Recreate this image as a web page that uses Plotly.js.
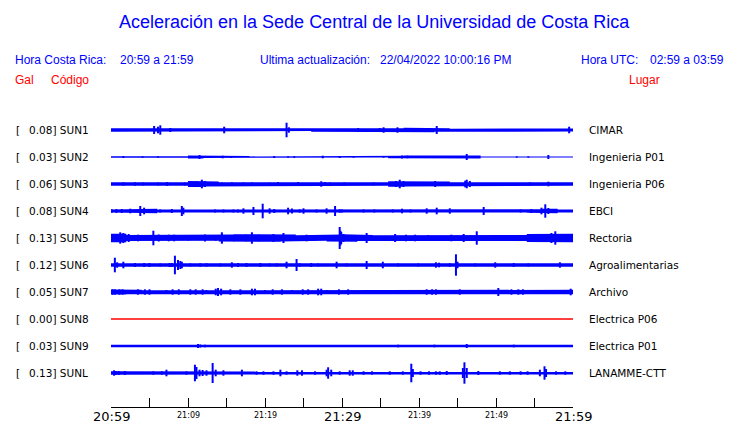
<!DOCTYPE html>
<html><head><meta charset="utf-8">
<script src="https://cdn.plot.ly/plotly-3.0.1.min.js"></script>
<style>html,body{margin:0;padding:0;background:#fff}#chart{width:740px;height:423px}</style>
</head><body><div id="chart"></div>
<script>
// ---------- DATA ----------
const stations = ['SUN1','SUN2','SUN3','SUN4','SUN5','SUN6','SUN7','SUN8','SUN9','SUNL'];
const places = ['CIMAR','Ingenieria P01','Ingenieria P06','EBCI','Rectoria','Agroalimentarias','Archivo','Electrica P06','Electrica P01','LANAMME-CTT'];
const peakGal = ['0.08','0.03','0.06','0.08','0.13','0.12','0.05','0.00','0.03','0.13'];
const tickMinutes = [0,10,20,30,40,50,60];
const tickLabels = ['20:59','21:09','21:19','21:29','21:39','21:49','21:59'];
const majorLabels = ['20:59','21:29','21:59'];
const minorTickMinutes = [0,5,10,15,20,25,30,35,40,45,50,55,60];

// background envelope (relative amplitude, one value per 2-minute block)
const sun1Env = [17,13,17,18,11,18,14,14,17,13,18,15,11,18,17,18,17,17,18,22,22,18,13,15,14,13,14,11,14,15];
const sun2Env = [7,6,6,6,8,16,9,12,11,6,9,8,6,13,11,6,6,6,13,14,13,11,11,14,6,6,6,6,13,6];
const sun3Env = [18,18,18,18,18,31,25,18,18,18,20,21,20,22,18,18,18,18,28,25,22,25,18,22,18,18,18,18,20,18];
const sun4Env = [15,17,22,14,18,14,14,14,14,18,20,21,14,15,15,14,14,14,14,14,18,20,18,14,17,14,14,17,22,14];
const sun5Env = [42,31,31,35,31,28,28,35,38,38,38,35,28,28,35,38,31,28,31,31,28,31,35,28,28,31,31,39,42,42];
const sun6Env = [18,14,14,14,17,14,13,16,14,14,14,17,14,14,16,14,17,17,14,14,14,17,17,14,16,14,14,14,20,17];
const sun7Env = [26,23,17,23,21,17,21,23,17,23,17,21,17,23,17,21,17,18,21,20,20,21,20,21,18,23,23,18,17,22];
const sun8Env = [0,0,0,0,0,0,0,0,0,0,0,0,0,0,0,0,0,0,0,0,0,0,0,0,0,0,0,0,0,0];
const sun9Env = [12,10,10,10,10,12,12,10,10,10,10,13,14,14,14,14,13,13,13,13,13,13,13,13,12,12,12,12,12,12];
const sunLEnv = [17,14,14,16,14,21,21,14,17,14,14,17,17,14,20,17,14,14,14,17,16,16,17,20,14,14,14,14,21,14];

// bursts: [minute after 20:59, relative half-amplitude]
const sun1Spikes = [[5.6,40],[6.1,33],[6.4,47],[7.7,20],[14.7,33],[22.8,73],[23.1,27],[32.1,20],[34.9,20],[35.4,27],[37.2,27],[40.3,20],[41.4,20],[42.3,40],[59.5,33]];
const sun2Spikes = [[1.6,10],[4.1,7],[6.1,7],[11.5,20],[14.5,13],[15.6,10],[21.2,10],[23,7],[23.8,8],[27.5,13],[29.7,10],[31.5,7],[35.4,7],[37.8,15],[38.5,13],[46.2,30],[52.7,7],[54.2,7],[56.8,20]];
const sun3Spikes = [[1.6,17],[3.1,17],[4.2,15],[6.1,15],[7.3,20],[9.6,15],[11.1,27],[11.8,43],[12.2,30],[13.1,17],[14.4,15],[15.7,17],[17.2,15],[18.3,15],[20.6,13],[21.7,20],[24.3,20],[27.3,27],[27.8,20],[28.4,15],[30.3,15],[34.1,15],[37,30],[37.5,43],[38,30],[39,20],[40,17],[42.1,30],[46,33],[46.2,43],[46.6,30],[54.4,17],[56.8,23]];
const sun4Spikes = [[0.1,17],[0.7,20],[1.4,20],[2.5,23],[3.8,50],[4.3,33],[6.4,15],[7.9,20],[9.2,50],[9.4,33],[13.5,15],[14.6,15],[15.9,15],[16.5,15],[17.2,27],[18.5,40],[19.7,73],[20.6,27],[21.2,20],[23,33],[23.5,25],[24.5,17],[25,27],[26.7,15],[28,27],[29.1,50],[29.7,17],[30,15],[32.8,15],[34.2,15],[36.6,15],[37.8,23],[38.9,15],[41,27],[42.3,33],[44,27],[48.4,40],[53.2,15],[54.6,20],[55.9,33],[56.4,67],[56.8,30]];
const sun5Spikes = [[0.5,33],[1.2,57],[1.6,50],[2.3,40],[3.5,33],[5.5,73],[6.2,35],[7.5,33],[8.2,33],[10,25],[12.2,35],[13.6,27],[14.4,57],[16,33],[17.5,33],[18.3,57],[19.2,33],[21.1,40],[22.4,50],[23.5,27],[25.4,33],[26.5,27],[29.7,110],[29.9,60],[30.2,40],[29.8,73],[33.2,50],[36.9,40],[38.3,33],[39.5,33],[41.2,30],[44.2,33],[45.8,40],[47.5,67],[52,27],[54.5,33],[55,33],[57.2,50],[57.7,67],[58.5,33],[59.5,33]];
const sun6Spikes = [[0.5,73],[0.8,27],[1.6,33],[3.1,20],[4.3,20],[5,20],[6.4,15],[7.6,20],[7.9,20],[8.3,93],[8.7,50],[9,40],[9.2,33],[10.3,15],[11.6,17],[12.4,17],[14.2,15],[15.7,27],[16.5,20],[17.6,20],[19.4,20],[20.6,15],[21.5,15],[22.8,33],[24.1,60],[24.5,17],[26,20],[26.9,15],[29.3,33],[30.6,15],[33.2,40],[35.3,33],[37.3,15],[39.9,15],[42.2,27],[42.6,23],[44,17],[44.8,107],[45,33],[47.3,15],[49.9,27],[52.3,20],[54.2,15],[58.3,27]];
const sun7Spikes = [[0.2,27],[0.5,27],[1.1,27],[1.5,27],[2.9,20],[3.5,27],[4.4,27],[5,27],[7.2,20],[8,27],[8.8,27],[10.3,27],[11,27],[11.9,27],[12.4,20],[13.6,33],[13.9,40],[14.3,33],[15.5,27],[16.8,27],[18.3,33],[18.7,33],[20,20],[21,27],[22.2,27],[23.5,20],[24.9,27],[25.6,27],[26.9,33],[27.3,33],[28,20],[29.6,27],[30.8,27],[34.1,20],[35.1,20],[38.8,20],[40.5,20],[41,27],[41.7,27],[42.2,27],[44.7,20],[45.3,27],[46,20],[47.2,20],[50.3,40],[52,27],[52.9,27],[53.5,27],[55,20],[57.5,20],[59.7,33]];
const sun8Spikes = [];
const sun9Spikes = [[11.3,20],[11.6,15],[12.2,13],[37.3,13],[42,13],[46.2,20],[52.3,13]];
const sunLSpikes = [[0.4,27],[0.6,20],[1,20],[1.8,20],[5.5,17],[6.6,17],[7.2,33],[9.8,17],[10.9,83],[11.1,60],[11.5,33],[11.9,30],[12.4,27],[13.2,100],[13.6,33],[14.6,27],[17,33],[18.9,17],[19.8,17],[21.1,17],[22,33],[22.8,17],[24.2,27],[24.8,27],[26.5,17],[28,33],[28.2,57],[28.6,33],[29.7,17],[31,27],[31.4,27],[32.8,17],[33.9,17],[36.2,17],[37.9,17],[39,93],[39.2,40],[40.2,17],[41.3,17],[42.2,17],[42.7,17],[43.6,20],[45.7,50],[45.9,107],[46.2,50],[47.7,20],[50.5,17],[51.8,17],[53.2,17],[54.1,17],[55.7,33],[56.3,67],[56.5,40],[57.8,17],[59,17]];

const envs = [sun1Env,sun2Env,sun3Env,sun4Env,sun5Env,sun6Env,sun7Env,sun8Env,sun9Env,sunLEnv];
const spikes = [sun1Spikes,sun2Spikes,sun3Spikes,sun4Spikes,sun5Spikes,sun6Spikes,sun7Spikes,sun8Spikes,sun9Spikes,sunLSpikes];
const flatStations = ['SUN8'];

// ---------- DRAW ----------
const ROW = 270;            // relative amplitude units per row spacing
const BLOCK = 2;            // minutes per envelope value
const BLUE = '#0000ff';
const W = 740, H = 423, L = 111, R = 167, T = 103, B = 16;
const pw = W - L - R, ph = H - T - B;
const px = v => (v - L) / pw;
const py = v => (H - B - v) / ph;

const traces = [];
stations.forEach((s, k) => {
  if (flatStations.includes(s)) {
    traces.push({x:[0,60], y:[k,k], mode:'lines', line:{color:'#ff0000', width:1.5}, hoverinfo:'skip'});
    return;
  }
  const env = envs[k], xs = [], ys = [];
  env.forEach((a, b) => { xs.push(b*BLOCK, (b+1)*BLOCK); ys.push(k - a/ROW, k - a/ROW); });
  for (let b = env.length - 1; b >= 0; b--) { xs.push((b+1)*BLOCK, b*BLOCK); ys.push(k + env[b]/ROW, k + env[b]/ROW); }
  traces.push({x:xs, y:ys, mode:'lines', fill:'toself', fillcolor:BLUE, line:{width:0, color:BLUE}, hoverinfo:'skip'});
  const sx = [], sy = [];
  spikes[k].forEach(([t, a]) => { sx.push(t, t, null); sy.push(k - a/ROW, k + a/ROW, null); });
  traces.push({x:sx, y:sy, mode:'lines', line:{color:BLUE, width:2}, hoverinfo:'skip', connectgaps:false});
});

const ann = [];
const txt = (text, x, y, size, color, family, xanchor) => ann.push({
  text, x: px(x), y: py(y), xref:'paper', yref:'paper', showarrow:false,
  xanchor: xanchor || 'left', yanchor:'middle', font:{size, color, family}
});
const SANS = 'Liberation Sans, Arial, sans-serif';
const DJ = 'DejaVu Sans, sans-serif';
txt('Aceleración en la Sede Central de la Universidad de Costa Rica', 374, 22, 18, BLUE, SANS, 'center');
txt('Hora Costa Rica:', 13, 60, 12, BLUE, SANS);
txt('20:59 a 21:59', 118, 60, 12, BLUE, SANS);
txt('Ultima actualización:', 258, 60, 12, BLUE, SANS);
txt('22/04/2022 10:00:16 PM', 378, 60, 12, BLUE, SANS);
txt('Hora UTC:', 579, 60, 12, BLUE, SANS);
txt('02:59 a 03:59', 648, 60, 12, BLUE, SANS);
txt('Gal', 13, 80, 12, '#ff0000', SANS);
txt('Código', 49, 80, 12, '#ff0000', SANS);
txt('Lugar', 627, 80, 12, '#ff0000', SANS);

stations.forEach((s, k) => {
  const yy = 130 + 27*k;
  txt('[', 14, yy, 10.5, '#000', DJ);
  txt(peakGal[k] + '] ' + s, 27, yy, 10.5, '#000', DJ);
  txt(places[k], 587, yy, 10.5, '#000', DJ);
});
tickMinutes.forEach((m, i) => {
  const big = majorLabels.includes(tickLabels[i]);
  ann.push({text: tickLabels[i], x: m, xref:'x', y: py(big ? 416 : 415), yref:'paper',
    showarrow:false, xanchor:'center', yanchor:'middle',
    font:{size: big ? 13 : 8, color:'#000', family: DJ}});
});

const layout = {
  width: W, height: H, margin:{l:L, r:R, t:T, b:B}, showlegend:false,
  paper_bgcolor:'#fff', plot_bgcolor:'#fff',
  xaxis:{range:[0,60], showgrid:false, zeroline:false, showline:true, linecolor:'#000', linewidth:1,
    tickmode:'array', tickvals:minorTickMinutes, ticktext:minorTickMinutes.map(()=>''),
    ticks:'inside', ticklen:9, tickcolor:'#000', tickwidth:1, fixedrange:true},
  yaxis:{range:[10 + (ph/27 - 11), -1], visible:false, showgrid:false, zeroline:false, fixedrange:true},
  annotations: ann
};
Plotly.newPlot('chart', traces, layout, {staticPlot:true, displayModeBar:false});
</script></body></html>
